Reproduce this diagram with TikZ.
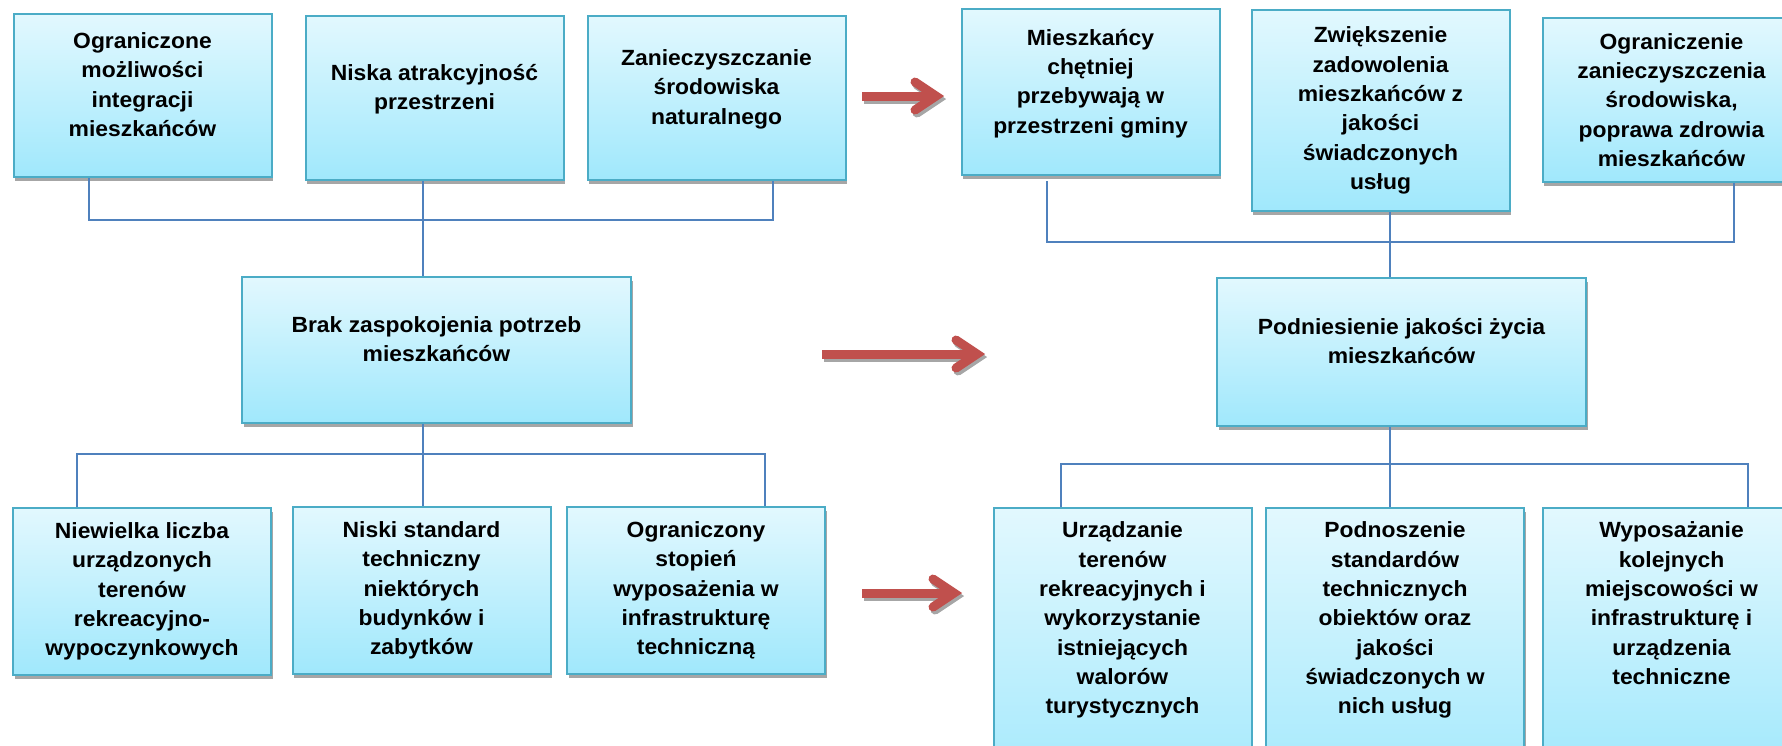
\documentclass[tikz,border=0pt]{standalone}
\usepackage{fontspec}
\setmainfont[FakeStretch=1.04]{Liberation Sans}
\usetikzlibrary{calc, shadows}
\definecolor{boxTop}{HTML}{E2F8FE}
\definecolor{boxBottom}{HTML}{A0E8FC}
\definecolor{boxLine}{HTML}{4BACC6}
\definecolor{connBlue}{HTML}{4F81BD}
\definecolor{arrRed}{HTML}{C0504D}
\definecolor{arrShadow}{HTML}{A6A6A6}
% one layer of a thick red arrow: from, tip, colour, offset
\newcommand{\arrowbody}[4]{%
  \draw[arrowline, line cap=butt, draw=#3] ($(#1)+#4$) -- ($(#2)+#4+(-9pt,0pt)$);
  \draw[arrowline, draw=#3] ($(#2)+#4+(-28pt,14pt)$) -- ($(#2)+#4+(-7pt,0pt)$)
    -- ($(#2)+#4+(-28pt,-14pt)$);}
\newcommand{\bigarrow}[2]{%
  \arrowbody{#1}{#2}{arrShadow}{(2pt,-3pt)}%
  \arrowbody{#1}{#2}{arrRed}{(0pt,0pt)}}

\begin{document}
\begin{tikzpicture}[x=1pt, y=-1pt,
  box/.style={draw=boxLine, line width=2pt, top color=boxTop, bottom color=boxBottom,
    align=center, font=\fontsize{22}{29.3}\selectfont\bfseries, inner sep=4pt,
    minimum width=258pt,
    drop shadow={shadow xshift=1.5pt, shadow yshift=-4pt, fill=arrShadow, opacity=1}},
  lifted/.style={text depth=22pt},
  opencut/.style={anchor=north, inner ysep=14pt, text depth=80pt},
  conn/.style={draw=connBlue, line width=1.3pt},
  arrowline/.style={line width=9pt, line cap=round, line join=miter}]

  \useasboundingbox (0,0) rectangle (1782,745);

  % Left side -- top row
  \node[box, lifted, minimum height=163pt] (mozl) at (142.5,95.5)
    {Ograniczone\\możliwości\\integracji\\mieszkańców};
  \node[box, lifted, minimum height=164pt] (atrak) at (434.5,98)
    {Niska atrakcyjność\\przestrzeni};
  \node[box, lifted, minimum height=164pt] (zanie) at (716.5,98)
    {Zanieczyszczanie\\środowiska\\naturalnego};

  % Left side -- central problem
  \node[box, lifted, minimum width=389pt, minimum height=146pt] (brak) at (436.5,350)
    {Brak zaspokojenia potrzeb\\mieszkańców};

  % Left side -- bottom row
  \node[box, minimum height=167pt] (liczba) at (142,591.5)
    {Niewielka liczba\\urządzonych\\terenów\\rekreacyjno-\\wypoczynkowych};
  \node[box, minimum height=167pt] (stand) at (421.5,590.5)
    {Niski standard\\techniczny\\niektórych\\budynków i\\zabytków};
  \node[box, minimum height=167pt] (stopien) at (696,590.5)
    {Ograniczony\\stopień\\wyposażenia w\\infrastrukturę\\techniczną};

  % Right side -- top row
  \node[box, lifted, minimum height=166pt] (chetn) at (1090.5,92)
    {Mieszkańcy\\chętniej\\przebywają w\\przestrzeni gminy};
  \node[box, minimum height=201pt] (zadow) at (1380.5,110.5)
    {Zwiększenie\\zadowolenia\\mieszkańców z\\jakości\\świadczonych\\usług};
  \node[box, minimum height=164pt] (zdrow) at (1671.5,100)
    {Ograniczenie\\zanieczyszczenia\\środowiska,\\poprawa zdrowia\\mieszkańców};

  % Right side -- central goal
  \node[box, lifted, minimum width=369pt, minimum height=148pt] (podn) at (1401.5,352)
    {Podniesienie jakości życia\\mieszkańców};

  % Right side -- bottom row (cut by the page edge)
  \node[box, opencut] (tereny) at (1122.5,507)
    {Urządzanie\\terenów\\rekreacyjnych i\\wykorzystanie\\istniejących\\walorów\\turystycznych};
  \node[box, opencut] (obiekt) at (1395,507)
    {Podnoszenie\\standardów\\technicznych\\obiektów oraz\\jakości\\świadczonych w\\nich usług};
  \node[box, opencut] (infra) at (1671.5,507)
    {Wyposażanie\\kolejnych\\miejscowości w\\infrastrukturę i\\urządzenia\\techniczne};

  % Junctions of the connector lines
  \coordinate (jTL) at (423,220);
  \coordinate (jBL) at (423,454);
  \coordinate (jTR) at (1390,242);
  \coordinate (jBR) at (1390,464);

  % Connectors -- left tree
  \draw[conn] ([xshift=-53.5pt]mozl.south) |- (jTL) -| ([xshift=56.5pt]zanie.south);
  \draw[conn] (atrak.south -| jTL) -- (brak.north -| jTL);
  \draw[conn] (brak.south -| jBL) -- (stand.north -| jBL);
  \draw[conn] ([xshift=-65pt]liczba.north) |- (jBL) -| ([xshift=69pt]stopien.north);

  % Connectors -- right tree
  \draw[conn] ([xshift=-43.5pt,yshift=-5pt]chetn.south) |- (jTR) -| ([xshift=62.5pt]zdrow.south);
  \draw[conn] (zadow.south -| jTR) -- (podn.north -| jTR);
  \draw[conn] (podn.south -| jBR) -- (obiekt.north -| jBR);
  \draw[conn] ([xshift=-61.5pt]tereny.north) |- (jBR) -| ([xshift=76.5pt]infra.north);

  % Red arrows from problems to goals
  \coordinate (a1s) at (862,96);  \coordinate (a1e) at (943,96);
  \coordinate (a2s) at (822,354); \coordinate (a2e) at (984,354);
  \coordinate (a3s) at (862,593); \coordinate (a3e) at (961,593);
  \bigarrow{a1s}{a1e}
  \bigarrow{a2s}{a2e}
  \bigarrow{a3s}{a3e}
\end{tikzpicture}
\end{document}
